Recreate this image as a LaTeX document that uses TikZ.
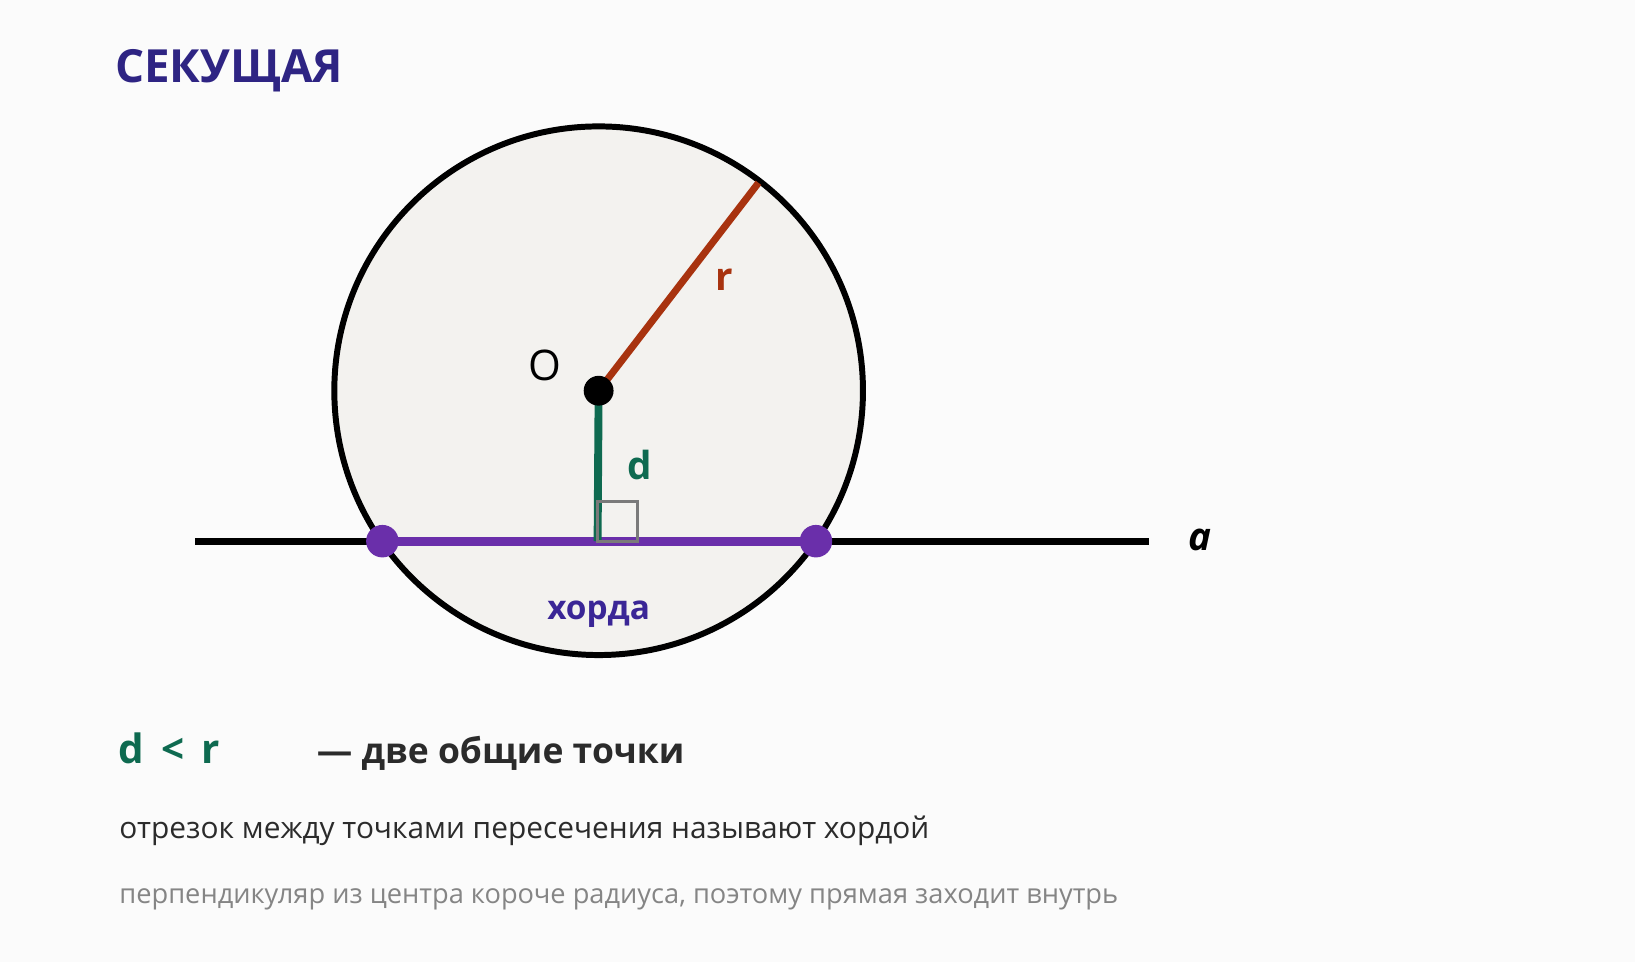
\documentclass[tikz,border=0pt]{standalone}
\usepackage{fontspec}
\setmainfont{Open Sans}
\usetikzlibrary{positioning}
\definecolor{pagebg}{HTML}{FBFBFB}
\definecolor{diskfill}{HTML}{F3F2EF}
\definecolor{titleblue}{HTML}{2E2483}
\definecolor{chordpurple}{HTML}{6A2FAA}
\definecolor{chordtext}{HTML}{3A2696}
\definecolor{radiusred}{HTML}{A8330F}
\definecolor{distgreen}{HTML}{0E6A50}
\definecolor{markgray}{HTML}{7A7A7A}
\definecolor{textdark}{HTML}{2B2B2B}
\definecolor{textgray}{HTML}{858585}
\begin{document}
\begin{tikzpicture}[
        x=0.0209cm, y=-0.0209cm,
        dot/.style={circle,fill,inner sep=0pt,minimum size=#1},
        lbl/.style={inner sep=0pt,font=\bfseries\fontsize{22}{26}\selectfont},
        line/.style={anchor=base west,inner sep=0pt},
        ]
        \useasboundingbox[fill=pagebg] (0,0) rectangle (1565,921);
        \coordinate (O) at (573,374);
        \coordinate (L) at (187,518);
        \coordinate (R) at (1100,518);
        \coordinate (A) at (366,518);
        \coordinate (B) at (781,518);
        \coordinate (H) at (572,518);
        \coordinate (P) at (726,175);

        % circle and line a
        \draw[line width=3.4pt,fill=diskfill] (O) circle[radius=253];
        \draw[line width=4pt] (L) -- (R);
        \draw[line width=5pt,chordpurple] (A) -- (B);
        \draw[line width=4pt,radiusred] (O) -- (P);
        \draw[line width=4.5pt,distgreen] (O) -- (H);
        \draw[line width=1.8pt,markgray] (H) rectangle ++(38,-38);

        \node[dot=17pt] (c) at (O) {};
        \node[dot=18.5pt,chordpurple] (a1) at (A) {};
        \node[dot=18.5pt,chordpurple] (a2) at (B) {};

        % labels
        \node[font=\fontsize{24}{28}\selectfont] at (522,350) {O};
        \node[lbl,radiusred] at (693,268) {r};
        \node[lbl,distgreen] at (612,445) {d};
        \node[lbl,font=\bfseries\itshape\fontsize{22}{26}\selectfont] at (1149,517) {a};
        \node[lbl,chordtext,font=\bfseries\fontsize{19}{23}\selectfont] at (573,588) {хорда};

        % text
        \node[line,titleblue,font=\bfseries\fontsize{26}{30}\selectfont] (title) at (110,79) {СЕКУЩАЯ};
        \node[line,distgreen,font=\bfseries\fontsize{23}{27}\selectfont] (rel) at (113,731) {d \,<\, r};
        \node[line,textdark,font=\bfseries\fontsize{20.2}{24}\selectfont] (res) at (303,731) {— две общие точки};
        \node[line,textdark,font=\fontsize{17}{21}\selectfont] (note) at (114,803) {отрезок между точками пересечения называют хордой};
        \node[line,textgray,font=\fontsize{15.5}{19}\selectfont] (hint) at (114,865) {перпендикуляр из центра короче радиуса, поэтому прямая заходит внутрь};
      \end{tikzpicture}
\end{document}
